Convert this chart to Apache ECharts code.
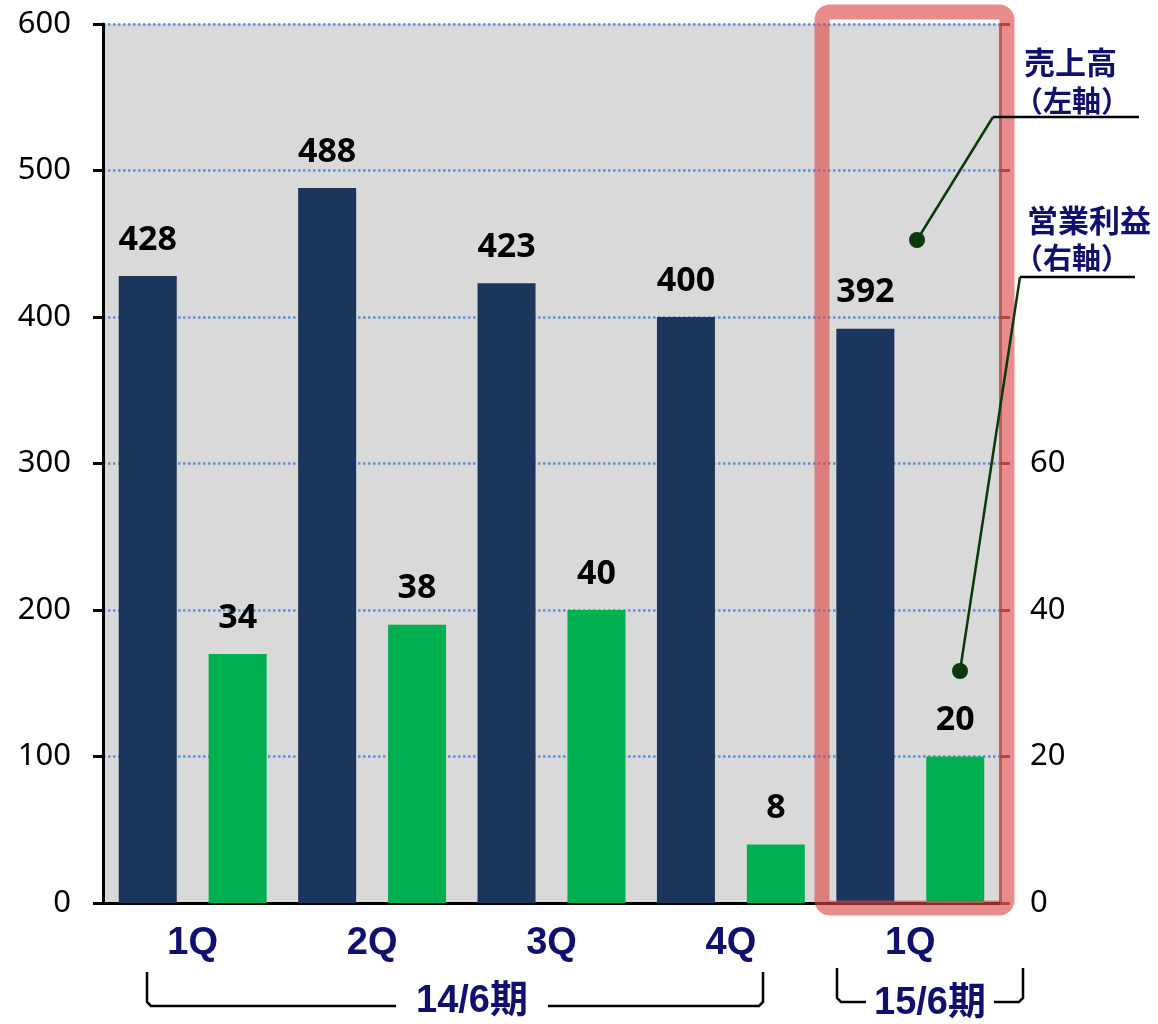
<!DOCTYPE html>
<html>
<head>
<meta charset="utf-8">
<script src="https://cdn.jsdelivr.net/npm/echarts@6/dist/echarts.min.js"></script>
<style>
  html, body { margin: 0; padding: 0; background: #fff; }
  #chart { width: 1158px; height: 1024px; }
</style>
</head>
<body>
<div id="chart"></div>
<script>
// 四半期
const quarters = ['1Q', '2Q', '3Q', '4Q', '1Q'];
// 売上高（左軸）
const sales = [428, 488, 423, 400, 392];
// 営業利益（右軸）
const operatingProfit = [34, 38, 40, 8, 20];
// 軸の範囲
const leftAxisMax = 600;
const leftAxisStep = 100;
const rightAxisMax = 120;
const rightAxisStep = 20;
const rightLabelLimit = 60;

const NAVY = '#1b365d';
const GREEN = '#00b050';
const TEXT_NAVY = '#10106e';
const POINTER = '#0a3a0a';
const LATIN = '"Liberation Sans", "Noto Sans CJK JP", sans-serif';
const NUM = '"Noto Sans", "Liberation Sans", sans-serif';

const chart = echarts.init(document.getElementById('chart'));

const labelStyle = {
  show: true,
  position: 'top',
  distance: 19,
  fontSize: 34,
  fontWeight: 'bold',
  color: '#000',
  fontFamily: NUM
};

const option = {
  animation: false,
  backgroundColor: '#fff',
  grid: {
    left: 103,
    right: 158,
    top: 24,
    bottom: 121,
    show: true,
    backgroundColor: '#d9d9d9',
    borderWidth: 0
  },
  xAxis: {
    type: 'category',
    data: quarters,
    axisLine: { lineStyle: { color: '#000', width: 3 } },
    axisTick: { show: false },
    axisLabel: {
      fontSize: 38,
      fontWeight: 'bold',
      color: TEXT_NAVY,
      fontFamily: LATIN,
      margin: 22
    }
  },
  yAxis: [
    {
      type: 'value',
      min: 0,
      max: leftAxisMax,
      interval: leftAxisStep,
      position: 'left',
      axisLine: { show: true, lineStyle: { color: '#000', width: 3 } },
      axisTick: { show: true, length: 10, lineStyle: { color: '#000', width: 3 } },
      axisLabel: { fontSize: 31, color: '#000', fontFamily: NUM, margin: 32 },
      splitLine: { show: true, lineStyle: { color: '#5b8fd9', type: 'dotted', width: 2.5 } }
    },
    {
      type: 'value',
      min: 0,
      max: rightAxisMax,
      interval: rightAxisStep,
      position: 'right',
      axisLine: { show: true, lineStyle: { color: '#808080', width: 3 } },
      axisTick: { show: true, length: 10, lineStyle: { color: '#7f3f3f', width: 3 } },
      axisLabel: {
        fontSize: 31,
        color: '#000',
        fontFamily: NUM,
        margin: 30,
        formatter: v => (v <= rightLabelLimit ? String(v) : '')
      },
      splitLine: { show: false }
    }
  ],
  series: [
    {
      name: '売上高',
      type: 'bar',
      yAxisIndex: 0,
      barWidth: 58,
      barGap: '55%',
      itemStyle: { color: NAVY },
      label: labelStyle,
      data: sales
    },
    {
      name: '営業利益',
      type: 'bar',
      yAxisIndex: 1,
      barWidth: 58,
      itemStyle: { color: GREEN },
      label: labelStyle,
      data: operatingProfit
    }
  ],
  graphic: [
    // 15/6期 の強調枠
    {
      type: 'rect',
      z: 100,
      shape: { x: 822, y: 12, width: 185, height: 896, r: 8 },
      style: { fill: 'none', stroke: 'rgba(220, 70, 70, 0.62)', lineWidth: 15 }
    },
    // 凡例の引き出し線
    {
      type: 'line', z: 110,
      shape: { x1: 993, y1: 117, x2: 1139, y2: 117 },
      style: { stroke: '#000', lineWidth: 2.5 }
    },
    {
      type: 'line', z: 110,
      shape: { x1: 993, y1: 117, x2: 917, y2: 240 },
      style: { stroke: POINTER, lineWidth: 2.5 }
    },
    { type: 'circle', z: 110, shape: { cx: 917, cy: 240, r: 8 }, style: { fill: POINTER } },
    {
      type: 'line', z: 110,
      shape: { x1: 1020, y1: 277, x2: 1135, y2: 277 },
      style: { stroke: '#000', lineWidth: 2.5 }
    },
    {
      type: 'line', z: 110,
      shape: { x1: 1020, y1: 277, x2: 960, y2: 671 },
      style: { stroke: POINTER, lineWidth: 2.5 }
    },
    { type: 'circle', z: 110, shape: { cx: 960, cy: 671, r: 8 }, style: { fill: POINTER } },
    // 凡例テキスト
    {
      type: 'text', z: 110, x: 1024, y: 62,
      style: { text: '売上高', font: 'bold 31px "Noto Sans CJK JP"', fill: TEXT_NAVY, verticalAlign: 'middle' }
    },
    {
      type: 'text', z: 110, x: 1014, y: 101,
      style: { text: '（左軸）', font: 'bold 29px "Noto Sans CJK JP"', fill: TEXT_NAVY, verticalAlign: 'middle' }
    },
    {
      type: 'text', z: 110, x: 1027, y: 220,
      style: { text: '営業利益', font: 'bold 31px "Noto Sans CJK JP"', fill: TEXT_NAVY, verticalAlign: 'middle' }
    },
    {
      type: 'text', z: 110, x: 1014, y: 258,
      style: { text: '（右軸）', font: 'bold 29px "Noto Sans CJK JP"', fill: TEXT_NAVY, verticalAlign: 'middle' }
    },
    // 期の括弧
    {
      type: 'polyline', z: 110,
      shape: { points: [[147, 972], [147, 1002], [151, 1006], [396, 1006]] },
      style: { stroke: '#000', lineWidth: 2.5, fill: 'none' }
    },
    {
      type: 'polyline', z: 110,
      shape: { points: [[548, 1006], [759, 1006], [763, 1002], [763, 972]] },
      style: { stroke: '#000', lineWidth: 2.5, fill: 'none' }
    },
    {
      type: 'text', z: 110, x: 472, y: 1002,
      style: { text: '14/6期', font: 'bold 38px ' + LATIN, fill: TEXT_NAVY, align: 'center', verticalAlign: 'middle' }
    },
    {
      type: 'polyline', z: 110,
      shape: { points: [[837, 968], [837, 998], [841, 1002], [866, 1002]] },
      style: { stroke: '#000', lineWidth: 2.5, fill: 'none' }
    },
    {
      type: 'polyline', z: 110,
      shape: { points: [[994, 1002], [1019, 1002], [1023, 998], [1023, 968]] },
      style: { stroke: '#000', lineWidth: 2.5, fill: 'none' }
    },
    {
      type: 'text', z: 110, x: 930, y: 1004,
      style: { text: '15/6期', font: 'bold 38px ' + LATIN, fill: TEXT_NAVY, align: 'center', verticalAlign: 'middle' }
    }
  ]
};

chart.setOption(option);
</script>
</body>
</html>
